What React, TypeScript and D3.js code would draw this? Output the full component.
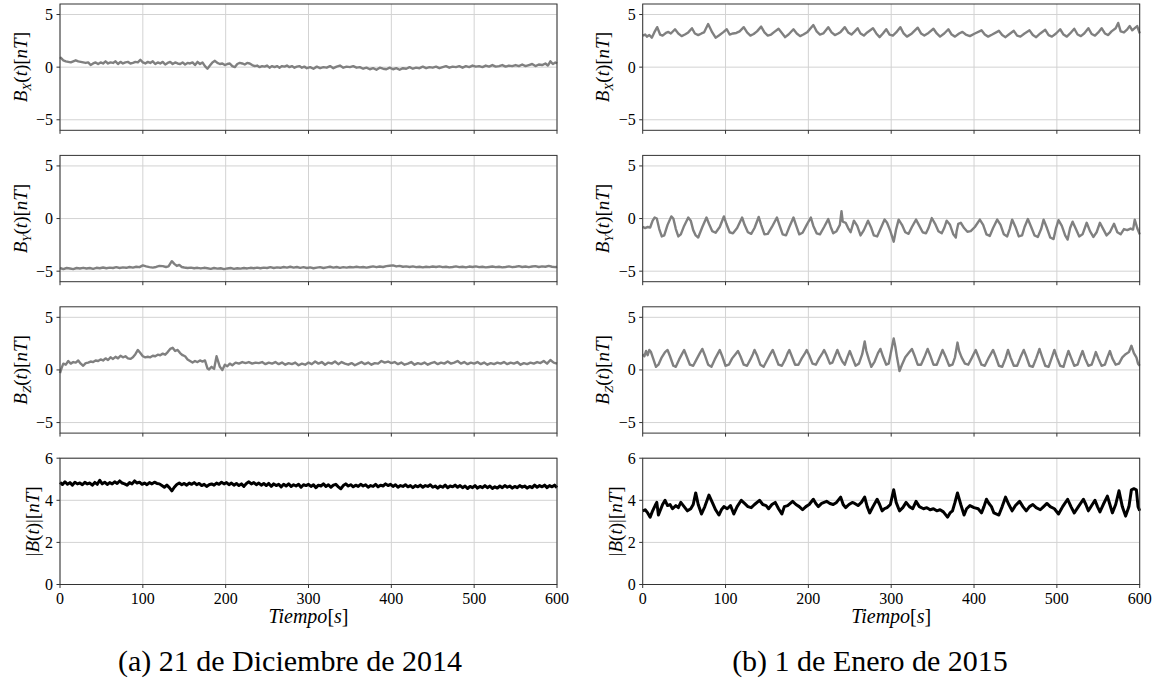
import * as d3 from 'd3';

type Pt = [number, number];

// ticks and labels
const xTicks = [0, 100, 200, 300, 400, 500, 600];
const fieldTicks = [-5, 0, 5];
const modTicks = [0, 2, 4, 6];
const captions = ['(a) 21 de Diciembre de 2014', '(b) 1 de Enero de 2015'];
const compNames = ['X', 'Y', 'Z'];

// (a) 21 dic 2014  [t (s), value (nT)]
const bxA: Pt[] = [[0,0.95],[2,0.8],[4,0.65],[7,0.55],[10,0.5],[13,0.45],[16,0.55],[19,0.65],[22,0.55],[25,0.5],[28,0.45],[31,0.4],[34,0.45],[37,0.2],[40,0.35],[43,0.45],[46,0.3],[49,0.45],[52,0.35],[55,0.55],[58,0.35],[61,0.45],[64,0.4],[67,0.55],[70,0.3],[73,0.5],[76,0.35],[79,0.45],[82,0.5],[85,0.35],[88,0.4],[91,0.5],[94,0.45],[97,0.7],[100,0.45],[103,0.35],[106,0.5],[109,0.4],[112,0.55],[115,0.3],[118,0.45],[121,0.35],[124,0.5],[127,0.25],[130,0.4],[133,0.5],[136,0.3],[139,0.45],[142,0.35],[145,0.3],[148,0.45],[151,0.25],[154,0.4],[157,0.35],[160,0.45],[163,0.2],[166,0.5],[169,0.3],[172,0.45],[175,0.1],[178,-0.15],[181,0.15],[184,0.45],[187,0.6],[190,0.4],[193,0.3],[196,0.35],[199,0.2],[202,0.3],[205,0.35],[208,0.1],[211,0.0],[214,0.3],[217,0.4],[220,0.35],[223,0.25],[226,0.4],[229,0.35],[232,0.2],[235,0.1],[238,0.15],[241,0.0],[244,0.1],[247,0.05],[250,0.15],[253,-0.05],[256,0.1],[259,0.0],[262,0.1],[265,-0.05],[268,0.1],[271,0.05],[274,0.15],[277,0.0],[280,0.1],[283,-0.05],[286,0.05],[289,0.1],[292,-0.05],[295,0.05],[298,-0.1],[302,0.0],[306,-0.15],[310,0.05],[314,-0.1],[318,0.0],[322,-0.05],[326,0.1],[330,-0.1],[334,0.05],[338,0.15],[342,-0.05],[346,0.05],[350,0.0],[354,0.1],[358,-0.05],[362,0.0],[366,-0.15],[370,-0.05],[374,-0.2],[378,-0.1],[382,-0.25],[386,-0.05],[390,-0.15],[394,-0.2],[398,-0.05],[402,-0.2],[406,-0.1],[410,-0.25],[414,-0.1],[418,-0.15],[422,0.0],[426,-0.15],[430,-0.05],[434,-0.1],[438,0.05],[442,-0.1],[446,0.0],[450,-0.05],[454,0.05],[458,-0.1],[462,0.0],[466,0.1],[470,-0.05],[474,0.05],[478,0.0],[482,0.1],[486,-0.05],[490,0.1],[494,0.0],[498,0.15],[502,0.05],[506,0.1],[510,0.0],[514,0.15],[518,0.05],[522,0.2],[526,0.05],[530,0.1],[534,0.2],[538,0.05],[542,0.15],[546,0.1],[550,0.2],[554,0.1],[558,0.25],[562,0.1],[566,0.2],[570,0.3],[574,0.1],[578,0.25],[582,0.2],[586,0.35],[589,0.15],[592,0.55],[595,0.3],[598,0.45],[600,0.35]];

const byA: Pt[] = [[0,-4.7],[4,-4.8],[8,-4.7],[12,-4.75],[16,-4.8],[20,-4.7],[24,-4.75],[28,-4.68],[32,-4.75],[36,-4.7],[40,-4.78],[44,-4.68],[48,-4.72],[52,-4.65],[56,-4.72],[60,-4.66],[64,-4.7],[68,-4.62],[72,-4.7],[76,-4.64],[80,-4.68],[84,-4.6],[88,-4.66],[92,-4.58],[96,-4.62],[100,-4.45],[104,-4.55],[108,-4.62],[112,-4.66],[116,-4.6],[120,-4.5],[124,-4.52],[128,-4.6],[131,-4.55],[135,-4.05],[138,-4.3],[141,-4.5],[144,-4.4],[147,-4.6],[150,-4.65],[154,-4.7],[158,-4.66],[162,-4.72],[166,-4.68],[170,-4.74],[174,-4.68],[178,-4.72],[182,-4.78],[186,-4.7],[190,-4.76],[194,-4.72],[198,-4.8],[202,-4.74],[206,-4.7],[210,-4.78],[214,-4.72],[218,-4.76],[222,-4.7],[226,-4.74],[230,-4.68],[234,-4.72],[238,-4.66],[242,-4.72],[246,-4.66],[250,-4.7],[254,-4.62],[258,-4.7],[262,-4.64],[266,-4.68],[270,-4.6],[274,-4.66],[278,-4.58],[282,-4.66],[286,-4.6],[290,-4.68],[294,-4.62],[298,-4.7],[302,-4.64],[306,-4.72],[310,-4.66],[314,-4.62],[318,-4.7],[322,-4.64],[326,-4.58],[330,-4.66],[334,-4.6],[338,-4.68],[342,-4.62],[346,-4.66],[350,-4.6],[354,-4.64],[358,-4.58],[362,-4.64],[366,-4.6],[370,-4.66],[374,-4.6],[378,-4.55],[382,-4.62],[386,-4.56],[390,-4.6],[394,-4.52],[398,-4.48],[402,-4.45],[406,-4.55],[410,-4.5],[414,-4.58],[418,-4.54],[422,-4.6],[426,-4.55],[430,-4.62],[434,-4.58],[438,-4.64],[442,-4.58],[446,-4.62],[450,-4.56],[454,-4.6],[458,-4.54],[462,-4.62],[466,-4.58],[470,-4.64],[474,-4.6],[478,-4.55],[482,-4.62],[486,-4.58],[490,-4.64],[494,-4.56],[498,-4.6],[502,-4.54],[506,-4.62],[510,-4.58],[514,-4.64],[518,-4.6],[522,-4.56],[526,-4.62],[530,-4.58],[534,-4.64],[538,-4.6],[542,-4.55],[546,-4.62],[550,-4.58],[554,-4.52],[558,-4.6],[562,-4.56],[566,-4.62],[570,-4.56],[574,-4.52],[578,-4.6],[582,-4.54],[586,-4.58],[590,-4.5],[594,-4.58],[598,-4.62],[600,-4.58]];

const bzA: Pt[] = [[0,-0.3],[2,0.2],[4,0.6],[7,0.5],[10,0.85],[13,0.6],[16,0.75],[19,0.7],[22,0.9],[25,0.6],[28,0.4],[31,0.65],[34,0.7],[37,0.8],[40,0.75],[43,0.9],[46,0.85],[49,1.0],[52,0.9],[55,1.1],[58,0.95],[61,1.2],[64,1.05],[67,1.25],[70,1.1],[73,1.35],[76,1.2],[79,1.3],[82,1.1],[85,1.05],[88,1.2],[91,1.5],[94,1.9],[97,1.6],[100,1.3],[103,1.2],[106,1.25],[109,1.2],[112,1.35],[115,1.3],[118,1.45],[121,1.4],[124,1.55],[127,1.45],[130,1.7],[133,2.0],[136,2.1],[139,1.8],[142,1.9],[145,1.6],[148,1.4],[151,1.3],[154,1.0],[157,0.85],[160,0.7],[163,0.85],[166,0.75],[169,0.9],[172,0.8],[175,0.9],[178,0.15],[180,0.05],[183,0.3],[186,0.1],[189,1.3],[191,0.8],[193,0.3],[196,0.0],[199,0.5],[202,0.35],[205,0.6],[208,0.45],[212,0.7],[216,0.6],[220,0.75],[224,0.65],[228,0.75],[232,0.6],[236,0.7],[240,0.65],[244,0.75],[248,0.55],[252,0.7],[256,0.6],[260,0.75],[264,0.55],[268,0.7],[272,0.5],[276,0.65],[280,0.55],[284,0.7],[288,0.45],[292,0.6],[296,0.5],[300,0.7],[304,0.55],[308,0.8],[312,0.6],[316,0.75],[320,0.5],[324,0.7],[328,0.6],[332,0.8],[336,0.55],[340,0.75],[344,0.6],[348,0.5],[352,0.65],[356,0.45],[360,0.6],[364,0.75],[368,0.55],[372,0.7],[376,0.5],[380,0.65],[384,0.6],[388,0.85],[392,0.7],[396,0.8],[400,0.65],[404,0.75],[408,0.55],[412,0.7],[416,0.5],[420,0.6],[424,0.75],[428,0.5],[432,0.65],[436,0.55],[440,0.7],[444,0.5],[448,0.65],[452,0.75],[456,0.55],[460,0.7],[464,0.6],[468,0.8],[472,0.6],[476,0.7],[480,0.85],[484,0.6],[488,0.75],[492,0.55],[496,0.7],[500,0.6],[504,0.75],[508,0.55],[512,0.7],[516,0.5],[520,0.65],[524,0.55],[528,0.7],[532,0.6],[536,0.75],[540,0.55],[544,0.7],[548,0.6],[552,0.75],[556,0.5],[560,0.65],[564,0.55],[568,0.7],[572,0.6],[576,0.75],[580,0.65],[584,0.85],[588,0.6],[592,0.95],[596,0.7],[600,0.6]];

const modA: Pt[] = [[0,4.85],[3,4.75],[6,4.88],[9,4.76],[12,4.84],[15,4.72],[18,4.86],[21,4.78],[24,4.82],[27,4.74],[30,4.85],[33,4.78],[36,4.82],[39,4.72],[42,4.85],[45,4.76],[48,4.95],[51,4.78],[54,4.86],[57,4.75],[60,4.84],[63,4.78],[66,4.88],[69,4.8],[72,4.92],[75,4.82],[78,4.78],[81,4.72],[84,4.84],[87,4.78],[90,4.92],[93,4.82],[96,4.86],[99,4.76],[102,4.82],[105,4.74],[108,4.84],[111,4.78],[114,4.86],[117,4.8],[120,4.78],[123,4.7],[126,4.62],[129,4.72],[132,4.6],[135,4.45],[138,4.62],[141,4.75],[144,4.82],[147,4.74],[150,4.8],[153,4.72],[156,4.82],[159,4.76],[162,4.84],[165,4.74],[168,4.8],[171,4.7],[174,4.76],[177,4.66],[180,4.74],[183,4.78],[186,4.72],[189,4.82],[192,4.76],[195,4.86],[198,4.78],[201,4.84],[204,4.74],[207,4.82],[210,4.72],[213,4.8],[216,4.7],[219,4.78],[222,4.66],[225,4.8],[228,4.88],[231,4.78],[234,4.84],[237,4.74],[240,4.82],[243,4.72],[246,4.8],[249,4.7],[252,4.8],[255,4.66],[258,4.78],[261,4.7],[264,4.76],[267,4.64],[270,4.76],[273,4.68],[276,4.78],[279,4.66],[282,4.74],[285,4.68],[288,4.76],[291,4.62],[294,4.74],[297,4.7],[300,4.76],[303,4.66],[306,4.74],[309,4.6],[312,4.72],[315,4.68],[318,4.78],[321,4.66],[324,4.74],[327,4.62],[330,4.72],[333,4.76],[336,4.64],[339,4.55],[342,4.7],[345,4.78],[348,4.68],[351,4.74],[354,4.64],[357,4.72],[360,4.66],[363,4.76],[366,4.68],[369,4.74],[372,4.62],[375,4.7],[378,4.66],[381,4.76],[384,4.64],[387,4.72],[390,4.68],[393,4.78],[396,4.7],[399,4.76],[402,4.66],[405,4.74],[408,4.62],[411,4.7],[414,4.66],[417,4.74],[420,4.64],[423,4.7],[426,4.6],[429,4.7],[432,4.64],[435,4.72],[438,4.62],[441,4.7],[444,4.66],[447,4.74],[450,4.62],[453,4.68],[456,4.58],[459,4.68],[462,4.62],[465,4.72],[468,4.6],[471,4.68],[474,4.64],[477,4.72],[480,4.62],[483,4.7],[486,4.6],[489,4.68],[492,4.56],[495,4.66],[498,4.6],[501,4.7],[504,4.58],[507,4.66],[510,4.6],[513,4.7],[516,4.6],[519,4.68],[522,4.56],[525,4.64],[528,4.58],[531,4.68],[534,4.6],[537,4.7],[540,4.62],[543,4.68],[546,4.58],[549,4.66],[552,4.6],[555,4.7],[558,4.62],[561,4.68],[564,4.58],[567,4.66],[570,4.6],[573,4.72],[576,4.62],[579,4.7],[582,4.64],[585,4.72],[588,4.6],[591,4.7],[594,4.64],[597,4.72],[600,4.6]];

// (b) 1 ene 2015
const bxB: Pt[] = [[0,3.0],[3,3.1],[5,2.9],[8,3.05],[11,2.8],[14,3.3],[17.5,3.8],[21,3.1],[24,3.0],[28,3.25],[31,3.35],[34,3.2],[39,3.6],[43,3.2],[47,2.95],[51,3.1],[55,3.3],[59.5,3.7],[63,3.2],[67,3.05],[71,3.2],[74,3.3],[79,4.1],[84,3.3],[88,2.8],[92,3.0],[97,3.3],[101.5,3.6],[105,3.1],[109,3.2],[113,3.25],[117,3.4],[122,3.8],[126,3.3],[130,3.0],[134,3.15],[138,3.4],[143,3.85],[147,3.3],[151,3.0],[155,3.1],[159,3.35],[164,3.65],[168,3.25],[172,2.85],[176,3.1],[182,3.6],[186,3.2],[190,2.95],[194,3.1],[199,3.35],[206,4.0],[210,3.4],[214,3.1],[218,3.2],[224,3.8],[228,3.3],[232,3.05],[236,3.2],[239,3.35],[244,3.8],[248,3.3],[252,3.1],[256,3.4],[259.5,3.7],[263,3.2],[267,3.0],[271,3.3],[278,3.7],[282,3.2],[286,2.85],[290,3.2],[294,3.6],[298,3.1],[302,3.0],[306,3.3],[311,3.8],[315,3.2],[319,2.9],[325,3.2],[332,3.75],[336,3.2],[340,3.0],[345,3.25],[351,3.65],[355,3.2],[359,2.9],[364,3.2],[369,3.6],[373,3.1],[377,2.9],[382,3.2],[386,3.35],[390,3.1],[395,2.95],[401,3.2],[409,3.5],[413,3.1],[417,2.9],[422,3.1],[430,3.45],[434,3.05],[438,2.85],[442,3.1],[448,3.45],[452,3.0],[456,2.9],[461,3.2],[467,3.5],[471,3.05],[475,2.85],[480,3.2],[486,3.55],[490,3.05],[494,2.9],[499,3.2],[504,3.6],[508,3.1],[512,2.9],[516,3.2],[521,3.65],[525,3.1],[529,2.95],[533,3.2],[538,3.7],[542,3.15],[546,3.0],[550,3.3],[554,3.7],[558,3.2],[562,3.05],[566,3.4],[571,3.7],[574,4.2],[577,3.4],[581,3.3],[585,3.6],[588,3.9],[591,3.5],[594,3.7],[597,3.9],[600,3.2]];

const byB: Pt[] = [[0,-0.8],[3,-0.9],[6,-0.8],[9,-0.85],[12,-0.2],[14.5,0.1],[17,0.0],[20,-1.0],[23,-1.7],[26,-1.6],[30,-0.6],[34.5,0.2],[37,0.0],[40,-1.0],[43,-1.7],[46,-1.5],[50,-0.7],[55,0.1],[58,-0.2],[61,-1.1],[64,-1.6],[67,-1.8],[72,-0.8],[77,0.1],[80,-0.5],[84,-1.2],[88,-1.35],[93,-0.8],[98,0.2],[101,-0.5],[105,-1.3],[109,-1.4],[114,-0.9],[120,0.1],[123,-0.6],[127,-1.3],[131,-1.45],[135,-0.9],[140,0.15],[143,-0.6],[147,-1.5],[151,-1.45],[156,-0.8],[162,0.1],[165,-0.6],[169,-1.5],[173,-1.6],[177,-0.8],[182,0.1],[185,-0.6],[189,-1.5],[193,-1.35],[198,-0.6],[203,0.1],[206,-0.7],[210,-1.4],[214,-1.5],[219,-0.8],[224,-0.05],[227,-0.8],[230,-1.4],[234,-1.2],[238,-0.6],[240,0.7],[241.5,-0.3],[245,-0.4],[248,-0.9],[251,-1.3],[255,-0.2],[259,-0.7],[263,-1.6],[267,-1.1],[272,-0.2],[276,-0.9],[279,-1.6],[283,-1.7],[287,-1.0],[292,-0.1],[295,-0.4],[299,-1.2],[303,-2.2],[306,-1.0],[309,-0.1],[313,-0.6],[317,-1.3],[321,-1.45],[325,-0.8],[330,-0.1],[334,-0.7],[338,-1.3],[342,-1.4],[345,-0.9],[349,0.05],[353,-0.5],[357,-1.2],[361,-1.4],[364,-0.9],[367,-0.2],[371,-0.6],[375,-1.5],[378,-1.8],[379,-1.2],[381,-0.5],[384,-0.4],[388,-0.9],[392,-1.25],[396,-1.2],[401,-0.8],[407,-0.1],[411,-0.6],[415,-1.5],[419,-1.65],[423,-0.9],[428,-0.1],[432,-0.6],[436,-1.5],[440,-1.7],[443,-1.0],[446,-0.1],[450,-0.8],[454,-1.7],[458,-1.6],[461,-0.8],[465,-0.05],[469,-0.8],[473,-1.6],[477,-1.75],[481,-1.0],[484,-0.1],[488,-0.9],[492,-1.8],[496,-1.95],[499,-0.9],[502,-0.15],[506,-0.7],[510,-1.6],[513,-2.0],[516,-0.9],[519,-0.3],[523,-1.0],[527,-1.7],[531,-1.5],[536,-0.4],[540,-1.2],[544,-1.75],[548,-1.3],[552,-0.4],[556,-1.0],[560,-1.6],[564,-1.3],[569,-0.5],[573,-1.3],[577,-1.5],[581,-1.0],[585,-1.1],[589,-0.95],[592,-1.05],[594,-0.1],[597,-0.9],[600,-1.5]];

const bzB: Pt[] = [[0,1.5],[2,1.3],[4,1.8],[6,1.4],[8,1.9],[10,1.7],[13,1.0],[16,0.3],[19,0.5],[23,1.2],[27,1.7],[30,1.9],[33,1.3],[37,0.4],[40,0.3],[44,1.0],[48,1.6],[50,1.9],[53,1.3],[57,0.5],[61,0.4],[65,1.0],[69,1.6],[72,2.0],[75,1.4],[79,0.5],[83,0.3],[87,1.0],[91,1.6],[93,1.9],[96,1.3],[100,0.4],[104,0.5],[108,1.1],[112,1.5],[115,1.8],[118,1.3],[122,0.5],[126,0.4],[130,1.0],[133,1.5],[135,1.9],[138,1.4],[142,0.5],[146,0.3],[150,0.9],[154,1.5],[157,1.9],[160,1.3],[164,0.5],[168,0.4],[172,1.0],[175,1.6],[177,1.9],[180,1.3],[184,0.5],[188,0.5],[192,1.1],[196,1.6],[198,1.9],[201,1.4],[205,0.6],[209,0.5],[213,1.1],[217,1.6],[219,1.9],[222,1.4],[226,0.6],[229,0.7],[232,1.3],[235,1.9],[238,1.3],[241,0.8],[244,0.5],[247,1.2],[250,1.8],[253,1.2],[257,0.4],[261,0.6],[265,1.5],[268,2.7],[270,1.8],[273,1.0],[276,0.3],[280,0.8],[284,1.6],[287,2.0],[290,1.3],[294,0.5],[297,0.6],[300,1.8],[303,3.0],[305,2.2],[307,1.2],[310,-0.1],[313,0.5],[317,1.2],[321,1.6],[325,2.0],[328,1.4],[332,0.5],[336,0.5],[340,1.2],[344,2.0],[347,1.4],[351,0.5],[355,0.5],[359,1.3],[362,1.9],[366,1.2],[370,0.4],[374,0.5],[377,1.2],[380,2.6],[382,1.8],[385,1.2],[389,0.6],[393,0.5],[397,1.1],[402,1.9],[405,1.3],[409,0.5],[413,0.4],[418,1.2],[423,1.9],[426,1.3],[430,0.4],[434,0.3],[438,1.1],[441,1.9],[444,1.2],[448,0.4],[452,0.4],[456,1.2],[460,1.9],[463,1.3],[467,0.4],[471,0.3],[475,1.1],[479,2.0],[482,1.3],[486,0.4],[490,0.3],[494,1.2],[497,1.9],[500,1.2],[504,0.4],[508,0.3],[511,1.1],[514,1.8],[517,1.2],[521,0.4],[525,0.5],[528,1.2],[531,1.8],[534,1.1],[538,0.4],[542,0.5],[545,1.2],[547,1.7],[550,1.1],[554,0.4],[558,0.5],[561,1.2],[564,1.8],[567,1.1],[571,0.5],[575,0.6],[579,1.2],[583,1.5],[587,1.7],[590,2.3],[593,1.6],[596,1.2],[598,0.6],[600,0.4]];

const modB: Pt[] = [[0,3.5],[3,3.55],[6,3.4],[9,3.2],[12,3.5],[15,3.75],[17,3.9],[19,3.3],[21,3.5],[24,3.8],[27,4.0],[30,3.75],[33,3.8],[36,3.6],[40,3.75],[43,3.65],[46,3.9],[50,3.7],[54,3.5],[58,3.6],[61,3.8],[64,4.35],[67,3.8],[71,3.35],[75,3.7],[80,4.25],[84,3.9],[88,3.55],[92,3.3],[95,3.55],[98,3.7],[102,3.6],[106,3.75],[110,3.35],[114,3.7],[119,4.0],[123,3.85],[127,3.7],[131,3.65],[135,3.8],[141,4.0],[145,3.8],[149,3.75],[152,3.6],[156,3.8],[160,3.9],[164,3.6],[168,3.35],[171,3.7],[175,3.75],[181,3.95],[185,3.8],[189,3.7],[193,3.55],[197,3.7],[201,3.8],[206,4.05],[209,3.85],[212,3.7],[216,3.85],[222,3.95],[226,3.85],[230,3.8],[234,3.9],[239,4.15],[242,3.8],[245,3.65],[249,3.8],[253,3.9],[256,3.85],[260,3.75],[264,3.9],[268,4.15],[271,3.7],[274,3.4],[278,3.7],[283,4.05],[286,3.8],[289,3.5],[292,3.6],[295,3.65],[299,3.8],[303,4.5],[306,3.9],[310,3.5],[314,3.65],[318,3.9],[322,3.7],[326,3.6],[330,3.95],[334,3.7],[339,3.6],[343,3.65],[347,3.55],[351,3.6],[355,3.5],[359,3.55],[363,3.45],[368,3.2],[371,3.4],[374,3.5],[377,3.9],[380,4.35],[384,3.8],[388,3.3],[391,3.6],[395,3.75],[400,3.65],[405,3.6],[409,3.4],[412,3.7],[415,4.05],[418,3.85],[421,3.7],[424,3.4],[430,3.3],[434,3.7],[438,4.15],[442,3.8],[446,3.5],[450,3.75],[455,3.95],[459,3.7],[463,3.5],[467,3.7],[471,3.8],[475,3.65],[480,3.55],[484,3.7],[488,3.85],[492,3.7],[497,3.6],[502,3.35],[507,3.7],[513,4.05],[517,3.7],[521,3.4],[526,3.7],[532,4.05],[535,3.8],[538,3.5],[542,3.75],[546,4.0],[549,3.7],[552,3.45],[556,3.8],[561,4.2],[564,3.8],[567,3.4],[571,3.8],[575,4.45],[579,3.7],[583,3.25],[587,3.7],[590,4.5],[593,4.55],[596,4.5],[598,3.7],[600,3.5]];

const columns = [
  { comps: [bxA, byA, bzA], mod: modA },
  { comps: [bxB, byB, bzB], mod: modB },
];

const W = 1159, H = 689;
const colX = [60, 642.7];
const panelW = 497;
const rowY = [4, 155.4, 306.8, 458.2];
const panelH = 126.3;
const captionX = [290, 870];
const FONT = '"Liberation Serif", "DejaVu Serif", serif';
const gridColor = '#d3d3d3';
const spineColor = '#333';

const fmt = (v: number) => (v < 0 ? '\u2212' + Math.abs(v) : String(v));

function YLabel({ x, y, comp }: { x: number; y: number; comp: string | null }) {
  return (
    <text transform={`translate(${x},${y}) rotate(-90)`} textAnchor="middle" fontSize={19} fontFamily={FONT}>
      {comp ? (
        <>
          <tspan fontStyle="italic">B</tspan>
          <tspan fontStyle="italic" fontSize={13} dy={4}>{comp}</tspan>
          <tspan dy={-4}>(</tspan>
          <tspan fontStyle="italic">t</tspan>
          <tspan>)[</tspan>
          <tspan fontStyle="italic">nT</tspan>
          <tspan>]</tspan>
        </>
      ) : (
        <>
          <tspan>|</tspan>
          <tspan fontStyle="italic">B</tspan>
          <tspan>(</tspan>
          <tspan fontStyle="italic">t</tspan>
          <tspan>)|[</tspan>
          <tspan fontStyle="italic">nT</tspan>
          <tspan>]</tspan>
        </>
      )}
    </text>
  );
}

function Panel({ x0, y0, data, isMod, comp, showX }: {
  x0: number; y0: number; data: Pt[]; isMod: boolean; comp: string | null; showX: boolean;
}) {
  const x = d3.scaleLinear().domain([0, 600]).range([x0, x0 + panelW]);
  const y = d3.scaleLinear().domain(isMod ? [0, 6] : [-6, 6]).range([y0 + panelH, y0]);
  const yTicks = isMod ? modTicks : fieldTicks;
  const line = d3.line<Pt>().x((d) => x(d[0])).y((d) => y(d[1]));
  const bottom = y0 + panelH;

  return (
    <g>
      {xTicks.map((t) => (
        <line key={'gx' + t} x1={x(t)} x2={x(t)} y1={y0} y2={bottom} stroke={gridColor} strokeWidth={1} />
      ))}
      {yTicks.map((t) => (
        <line key={'gy' + t} x1={x0} x2={x0 + panelW} y1={y(t)} y2={y(t)} stroke={gridColor} strokeWidth={1} />
      ))}
      <path
        d={line(data) ?? ''}
        fill="none"
        stroke={isMod ? '#000' : '#808080'}
        strokeWidth={isMod ? 3 : 2.4}
        strokeLinejoin="round"
      />
      <rect x={x0} y={y0} width={panelW} height={panelH} fill="none" stroke={spineColor} strokeWidth={1} />
      {xTicks.map((t) => (
        <line key={'tx' + t} x1={x(t)} x2={x(t)} y1={bottom} y2={bottom + 3.5} stroke={spineColor} strokeWidth={1} />
      ))}
      {yTicks.map((t) => (
        <g key={'ty' + t}>
          <line x1={x0 - 3.5} x2={x0} y1={y(t)} y2={y(t)} stroke={spineColor} strokeWidth={1} />
          <text x={x0 - 7} y={y(t)} dy="0.34em" textAnchor="end" fontSize={16} fontFamily={FONT}>
            {fmt(t)}
          </text>
        </g>
      ))}
      {showX &&
        xTicks.map((t) => (
          <text key={'lx' + t} x={x(t)} y={bottom + 19} textAnchor="middle" fontSize={16} fontFamily={FONT}>
            {t}
          </text>
        ))}
      {showX && (
        <text x={x0 + panelW / 2} y={bottom + 38} textAnchor="middle" fontSize={20} fontFamily={FONT}>
          <tspan fontStyle="italic">Tiempo</tspan>
          <tspan>[</tspan>
          <tspan fontStyle="italic">s</tspan>
          <tspan>]</tspan>
        </text>
      )}
      <YLabel x={x0 + (isMod ? -21 : -33.5)} y={y0 + panelH / 2} comp={comp} />
    </g>
  );
}

export default function App() {
  return (
    <svg
      width={W}
      height={H}
      viewBox={`0 0 ${W} ${H}`}
      style={{ position: 'absolute', left: 0, top: 0, background: '#fff' }}
    >
      <rect width={W} height={H} fill="#fff" />
      {columns.map((col, ci) => (
        <g key={ci}>
          {col.comps.map((series, ri) => (
            <Panel key={ri} x0={colX[ci]} y0={rowY[ri]} data={series} isMod={false} comp={compNames[ri]} showX={false} />
          ))}
          <Panel x0={colX[ci]} y0={rowY[3]} data={col.mod} isMod={true} comp={null} showX={true} />
          <text x={captionX[ci]} y={671} textAnchor="middle" fontSize={30} fontFamily={FONT}>
            {captions[ci]}
          </text>
        </g>
      ))}
    </svg>
  );
}
